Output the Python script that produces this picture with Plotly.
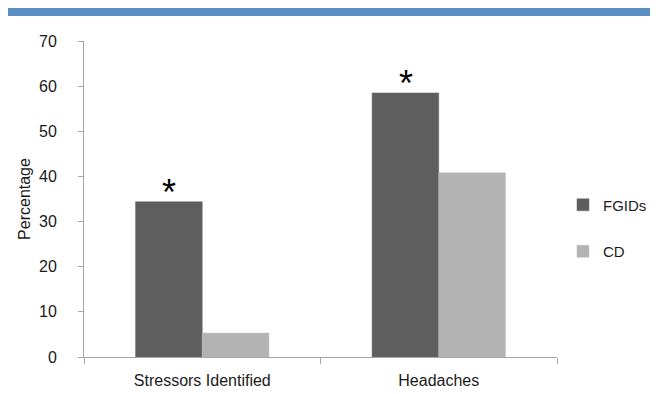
import plotly.graph_objects as go

categories = ["Stressors Identified", "Headaches"]
fgids = [34.4, 58.5]
cd = [5.3, 40.8]
fgids_marks = ["*", "*"]
y_ticks = [0, 10, 20, 30, 40, 50, 60, 70]

FONT = "Liberation Sans, Arial, sans-serif"
# the page body has an 8px margin, so the figure is 8px smaller than the window
OFF = 8
W, H = 658 - OFF, 394 - OFF
L, T = 84 - OFF, 41 - OFF
R = W - (557 - OFF)
B = H - (357 - OFF)
pw, ph = W - L - R, H - T - B

def px_x(x):
    return (x - OFF - L) / pw

def px_y(y):
    return (H - B - (y - OFF)) / ph

fig = go.Figure()
fig.add_trace(go.Bar(
    x=categories, y=fgids, name="FGIDs", legendgroup="a",
    marker=dict(color="#5E5E5E", line=dict(color="#6a6a6a", width=0.5)),
))
fig.add_trace(go.Bar(
    x=categories, y=cd, name="CD", legendgroup="b",
    marker=dict(color="#B3B3B3", line=dict(color="#bcbcbc", width=0.5)),
))

for c, v, m in zip(categories, fgids, fgids_marks):
    fig.add_annotation(x=c, y=v, text=m, showarrow=False, xref="x", yref="y",
                       xshift=-33, yanchor="bottom", yshift=-13,
                       font=dict(size=36, color="#000000", family=FONT))

fig.add_shape(type="rect", xref="paper", yref="paper",
              x0=px_x(6), x1=px_x(653), y0=px_y(16), y1=px_y(7),
              fillcolor="#5B8FC3", line=dict(width=0), layer="above")

fig.update_layout(
    width=W, height=H,
    margin=dict(l=L, r=R, t=T, b=B, autoexpand=False),
    paper_bgcolor="white", plot_bgcolor="white",
    barmode="group", bargap=0.436, bargroupgap=0,
    font=dict(family=FONT, size=16, color="#1a1a1a"),
    showlegend=True,
    legend=dict(x=px_x(563), y=px_y(228), xanchor="left", yanchor="middle",
                font=dict(size=15, family=FONT), tracegroupgap=24,
                itemwidth=30, bgcolor="rgba(0,0,0,0)"),
)
fig.update_xaxes(
    automargin=False,
    showline=True, linecolor="#A6A6A6", linewidth=1,
    ticks="outside", tickson="boundaries", ticklen=6, tickcolor="#A6A6A6",
    showgrid=False, tickfont=dict(size=16, family=FONT), ticklabelstandoff=9,
)
fig.update_yaxes(
    automargin=False,
    range=[0, 70], tickvals=y_ticks, showline=True, linecolor="#A6A6A6",
    linewidth=1, ticks="outside", ticklen=5, tickcolor="#A6A6A6",
    showgrid=False, zeroline=False, ticklabelstandoff=18,
    tickfont=dict(size=16, family=FONT),
    title=dict(text="Percentage", font=dict(size=16, family=FONT), standoff=4),
)

fig.write_html("out.html")
